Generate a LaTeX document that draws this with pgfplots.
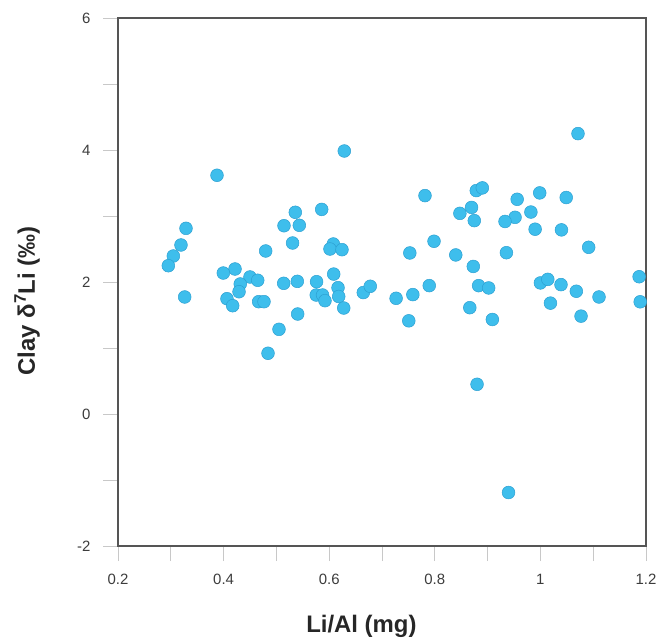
\documentclass[border=0pt]{standalone}
\usepackage{fontspec}
\setmainfont{Liberation Sans}
\usepackage{pgfplots}
\pgfplotsset{compat=1.18}
\definecolor{ptfill}{RGB}{62,190,236}
\definecolor{ptedge}{RGB}{45,160,210}
\definecolor{tickgray}{RGB}{200,200,200}
\definecolor{framegray}{RGB}{85,85,85}
\definecolor{labgray}{RGB}{60,60,60}
\begin{document}
\begin{tikzpicture}
\useasboundingbox (-118bp,-97bp) rectangle (541bp,546bp);
\begin{axis}[
  at={(0,0)}, anchor=south west,
  scale only axis, width=528bp, height=528bp,
  xmin=0.2, xmax=1.2, ymin=-2, ymax=6,
  xtick={0.2,0.4,0.6,0.8,1,1.2},
  xticklabels={0.2,0.4,0.6,0.8,1,1.2},
  minor xtick={0.3,0.5,0.7,0.9,1.1},
  ytick={-2,0,2,4,6},
  minor ytick={-1,1,3,5},
  tick align=outside,
  major tick length=15bp, minor tick length=15bp,
  tick style={tickgray, line width=0.8bp},
  xtick pos=bottom, ytick pos=left,
  axis line style={framegray, line width=1.1bp},
  /pgf/number format/assume math mode=true,
  ticklabel style={font=\fontsize{15}{17}\selectfont, text=labgray},
  xticklabel style={yshift=-10bp},
  yticklabel style={xshift=-9bp},
  xlabel={\textbf{Li/Al (mg)}},
  ylabel={\textbf{Clay δ\textsuperscript{7}Li (‰)}},
  label style={font=\fontsize{24}{28}\selectfont, text=black!85},
  xlabel style={at={(axis description cs:0.461,-0.153)}, anchor=center},
  ylabel style={at={(axis description cs:-0.172,0.464)}, anchor=center},
  clip=false,
]
\addplot[only marks, mark=*, mark size=6.4bp,
  mark options={fill=ptfill, draw=ptedge, line width=0.5bp}]
coordinates {
(0.6286,3.985) (0.3875,3.617) (0.5858,3.10) (0.5358,3.056) (0.5144,2.853)
(0.5434,2.859) (0.3288,2.813) (0.3193,2.561) (0.5306,2.591) (0.3048,2.394)
(0.2953,2.247) (0.4797,2.47) (0.6078,2.576) (0.6015,2.50) (0.6242,2.49)
(0.4216,2.197) (0.3995,2.136) (0.45,2.076) (0.4646,2.026) (0.4316,1.97)
(0.4292,1.853) (0.5138,1.98) (0.5396,2.01) (0.5761,2.005) (0.6085,2.12)
(0.6167,1.914) (0.618,1.78) (0.5755,1.803) (0.5874,1.803) (0.592,1.717)
(0.6275,1.606) (0.3263,1.773) (0.4064,1.747) (0.4172,1.641) (0.4664,1.702)
(0.4765,1.702) (0.5403,1.515) (0.5049,1.283) (0.4841,0.92) (0.6646,1.84)
(0.6778,1.935)
(1.0712,4.248) (0.7814,3.309) (0.8786,3.385) (0.890,3.426) (0.956,3.253)
(0.9987,3.35) (1.0489,3.28) (0.8696,3.13) (0.8475,3.04) (0.8748,2.93)
(0.982,3.06) (0.952,2.98) (0.933,2.917) (0.990,2.80) (1.0399,2.79)
(0.7985,2.617) (0.7527,2.44) (0.8397,2.41) (0.9356,2.444) (1.0914,2.526)
(0.8729,2.236) (0.7895,1.945) (0.7584,1.809) (0.7267,1.753) (0.7507,1.412)
(0.883,1.945) (0.902,1.91) (0.8663,1.611) (0.909,1.432) (1.0,1.986)
(1.014,2.04) (1.039,1.96) (1.068,1.86) (1.111,1.773) (1.019,1.68)
(1.077,1.483) (1.187,2.08) (1.189,1.70)
(0.880,0.45) (0.9396,-1.19)
};
\end{axis}
\end{tikzpicture}
\end{document}
